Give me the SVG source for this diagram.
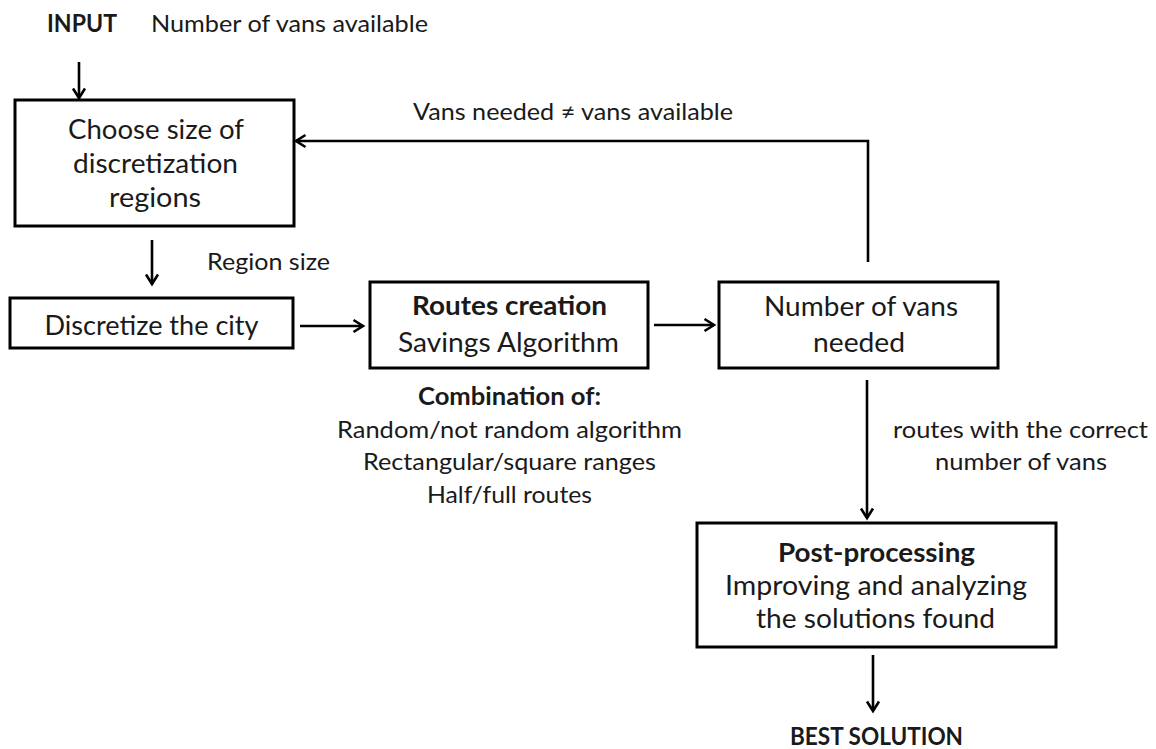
<svg xmlns="http://www.w3.org/2000/svg" width="1156" height="749" viewBox="0 0 1156 749">
<defs>
<marker id="ah" markerUnits="userSpaceOnUse" markerWidth="16" markerHeight="16" refX="12.5" refY="8" orient="auto">
<path d="M3,2 L12.5,8 L3,14" fill="none" stroke="#000" stroke-width="2.6" stroke-linejoin="miter"/>
</marker>
<style>
.box{fill:#fff;stroke:#000;stroke-width:3}
.t{font-family:Lato,"Open Sans","Liberation Sans",sans-serif;fill:#1a1a1a;text-anchor:middle}
.big{font-size:27px}
.sm{font-size:24px}
.b{font-weight:bold}
.c{fill:none;stroke:#000;stroke-width:2.6;marker-end:url(#ah)}
</style>
</defs>
<g id="input-label">
<text class="t sm b" x="82" y="32" textLength="70" lengthAdjust="spacingAndGlyphs">INPUT</text>
<text class="t sm" x="289.5" y="32" textLength="277" lengthAdjust="spacingAndGlyphs">Number of vans available</text>
</g>
<g id="choose-size">
<rect class="box" x="15" y="100" width="279" height="126"/>
<text class="t big" x="156" y="139" textLength="176" lengthAdjust="spacingAndGlyphs">Choose size of</text>
<text class="t big" x="155.5" y="173" textLength="165" lengthAdjust="spacingAndGlyphs">discretization</text>
<text class="t big" x="155" y="207" textLength="92" lengthAdjust="spacingAndGlyphs">regions</text>
</g>
<g id="discretize">
<rect class="box" x="10" y="298" width="283" height="50"/>
<text class="t big" x="151.5" y="335" textLength="214" lengthAdjust="spacingAndGlyphs">Discretize the city</text>
</g>
<g id="routes-creation">
<rect class="box" x="370" y="282" width="278" height="86"/>
<text class="t big b" x="509.5" y="315" textLength="195" lengthAdjust="spacingAndGlyphs">Routes creation</text>
<text class="t big" x="508.5" y="352" textLength="221" lengthAdjust="spacingAndGlyphs">Savings Algorithm</text>
</g>
<g id="combination-note">
<text class="t sm b" x="509.5" y="405" textLength="183" lengthAdjust="spacingAndGlyphs">Combination of:</text>
<text class="t sm" x="509.5" y="438" textLength="345" lengthAdjust="spacingAndGlyphs">Random/not random algorithm</text>
<text class="t sm" x="509.5" y="470" textLength="293" lengthAdjust="spacingAndGlyphs">Rectangular/square ranges</text>
<text class="t sm" x="509.5" y="503" textLength="165" lengthAdjust="spacingAndGlyphs">Half/full routes</text>
</g>
<g id="vans-needed">
<rect class="box" x="719" y="282" width="279" height="86"/>
<text class="t big" x="861" y="316" textLength="194" lengthAdjust="spacingAndGlyphs">Number of vans</text>
<text class="t big" x="859" y="352" textLength="92" lengthAdjust="spacingAndGlyphs">needed</text>
</g>
<g id="post-processing">
<rect class="box" x="697" y="523" width="359" height="124"/>
<text class="t big b" x="876.5" y="562" textLength="197" lengthAdjust="spacingAndGlyphs">Post-processing</text>
<text class="t big" x="876" y="595" textLength="302" lengthAdjust="spacingAndGlyphs">Improving and analyzing</text>
<text class="t big" x="875.5" y="628" textLength="239" lengthAdjust="spacingAndGlyphs">the solutions found</text>
</g>
<g id="best-solution">
<text class="t sm b" x="876.5" y="745" textLength="173" lengthAdjust="spacingAndGlyphs">BEST SOLUTION</text>
</g>
<g id="connectors">
<path class="c" d="M79,62 V98"/>
<path class="c" d="M868,262 V141 H296"/>
<path class="c" d="M152,240 V284"/>
<path class="c" d="M300,326 H363"/>
<path class="c" d="M654,325 H714"/>
<path class="c" d="M867,380 V518"/>
<path class="c" d="M873,655 V711"/>
</g>
<g id="connector-labels">
<text class="t sm" x="573" y="120" textLength="320" lengthAdjust="spacingAndGlyphs">Vans needed ≠ vans available</text>
<text class="t sm" x="268.5" y="270" textLength="123" lengthAdjust="spacingAndGlyphs">Region size</text>
<text class="t sm" x="1020.5" y="438" textLength="255" lengthAdjust="spacingAndGlyphs">routes with the correct</text>
<text class="t sm" x="1021" y="470" textLength="172" lengthAdjust="spacingAndGlyphs">number of vans</text>
</g>
</svg>
